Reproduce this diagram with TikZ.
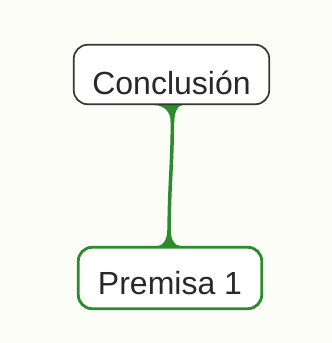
\documentclass[tikz,border=0pt]{standalone}
\usepackage{fontspec}
\setmainfont{Liberation Sans}
\usetikzlibrary{backgrounds,calc}
\definecolor{bgc}{RGB}{253,253,247}
\definecolor{grn}{RGB}{42,140,42}
\definecolor{txt}{RGB}{40,40,40}
\definecolor{bord}{RGB}{55,55,55}
\begin{document}
\begin{tikzpicture}[x=1pt,y=1pt,
 box/.style={rectangle, rounded corners=14pt, fill=white, font=\fontsize{32}{38}\selectfont, text=txt, inner sep=0pt, text depth=0pt},
 concl/.style={box, draw=bord, line width=1.7pt, minimum width=195.5pt, minimum height=59.5pt, text height=41pt},
 prem/.style={box, draw=grn, line width=2.8pt, minimum width=183.5pt, minimum height=61.5pt, text height=34pt},
 link/.style={draw=grn, line width=3.5pt},
 flare/.style={fill=grn}]
\useasboundingbox (0,0) rectangle (332,343);
\node[concl] (c) at (171.5,268.5) {Conclusión};
\node[prem] (p) at (170,65) {Premisa 1};
\begin{pgfonlayer}{background}
\fill[bgc] (0,0) rectangle (332,343);
\coordinate (ct) at ($(c.south)+(1,0)$);
\coordinate (pb) at ($(p.north)+(-1,0)$);
\draw[link] (ct) .. controls ($(ct)+(0,-70)$) and ($(pb)+(0,70)$) .. (pb);
\fill[flare] ($(ct)+(-19,0)$) .. controls ($(ct)+(-7,0)$) and ($(ct)+(-1.75,-8)$) .. ($(ct)+(-1.75,-17)$) -- ($(ct)+(1.75,-17)$) .. controls ($(ct)+(1.75,-8)$) and ($(ct)+(5,0)$) .. ($(ct)+(10,0)$) -- cycle;
\fill[flare] ($(pb)+(-12,0)$) .. controls ($(pb)+(-5,0)$) and ($(pb)+(-1.75,7)$) .. ($(pb)+(-1.75,16)$) -- ($(pb)+(1.75,16)$) .. controls ($(pb)+(1.75,7)$) and ($(pb)+(5,0)$) .. ($(pb)+(11,0)$) -- cycle;
\end{pgfonlayer}
\end{tikzpicture}
\end{document}
